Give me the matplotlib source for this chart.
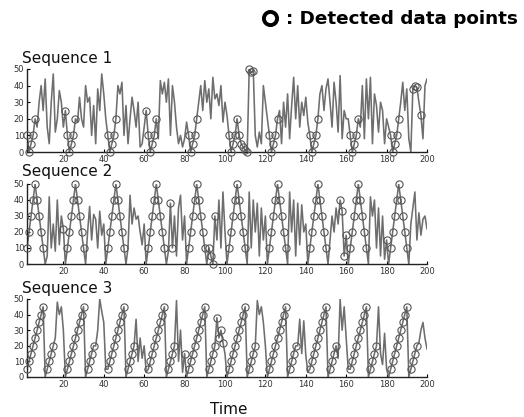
import matplotlib
matplotlib.use("Agg")
import matplotlib.pyplot as plt
from matplotlib.lines import Line2D
import numpy as np

time = list(range(1, 201))

seq1 = [
    10, 10, 0, 5, 10, 20, 15, 30, 40, 25, 44, 15, 5, 30, 47, 12, 20, 37, 30, 15,
    25, 10, 0, 5, 10, 20, 18, 33, 20, 15, 40, 30, 33, 10, 28, 5, 38, 25, 47, 35,
    20, 10, 0, 5, 10, 20, 40, 35, 42, 10, 28, 5, 20, 33, 25, 15, 30, 3, 5, 15,
    25, 10, 0, 5, 10, 20, 8, 43, 35, 42, 30, 44, 10, 40, 30, 15, 5, 10, 3, 8,
    18, 10, 0, 5, 10, 20, 30, 40, 25, 43, 30, 38, 20, 45, 32, 35, 28, 40, 18, 30,
    22, 10, 0, 5, 10, 20, 10, 5, 3, 1, 0, 50, 48, 49, 10, 3, 12, 5, 40, 30,
    20, 10, 0, 5, 10, 20, 25, 5, 30, 15, 35, 8, 28, 45, 20, 40, 15, 30, 22, 33,
    18, 10, 0, 5, 10, 20, 35, 40, 25, 38, 44, 30, 15, 42, 30, 12, 46, 8, 25, 20,
    20, 10, 0, 5, 10, 20, 15, 40, 8, 44, 20, 45, 5, 35, 28, 12, 30, 25, 5, 20,
    15, 10, 0, 5, 10, 20, 30, 42, 25, 38, 8, 0, 38, 40, 39, 30, 22, 8, 40, 44,
]
det1 = [2, 3, 4, 5, 6, 21, 22, 23, 24, 25, 26, 42, 43, 44, 45, 46,
        61, 62, 63, 64, 65, 66, 82, 83, 84, 85, 86,
        102, 103, 104, 105, 106, 107, 108, 109, 110, 111, 112, 113, 114,
        122, 123, 124, 125, 126, 142, 143, 144, 145, 146,
        162, 163, 164, 165, 166, 182, 183, 184, 185, 186, 193, 194, 195, 197]

seq2 = [
    0, 10, 20, 30, 40, 50, 40, 30, 20, 10, 0, 5, 42, 10, 25, 8, 40, 12, 30, 22,
    0, 10, 20, 30, 40, 50, 40, 30, 20, 10, 0, 20, 36, 15, 31, 28, 10, 33, 18, 25,
    0, 10, 20, 30, 40, 50, 40, 30, 20, 10, 0, 10, 43, 25, 35, 28, 30, 20, 12, 25,
    0, 10, 20, 30, 40, 50, 40, 30, 20, 10, 0, 8, 38, 10, 30, 5, 35, 43, 15, 30,
    0, 10, 20, 30, 40, 50, 40, 30, 20, 10, 0, 10, 5, 0, 30, 15, 40, 10, 45, 20,
    0, 10, 20, 30, 40, 50, 40, 30, 20, 10, 0, 45, 10, 40, 20, 38, 5, 35, 15, 30,
    0, 10, 20, 30, 40, 50, 40, 30, 20, 10, 0, 45, 20, 40, 5, 38, 12, 37, 20, 25,
    0, 10, 20, 30, 40, 50, 40, 30, 20, 10, 0, 15, 30, 20, 35, 25, 40, 33, 5, 18,
    0, 10, 20, 30, 40, 50, 40, 30, 20, 10, 0, 42, 30, 40, 10, 35, 5, 30, 3, 15,
    0, 10, 20, 30, 40, 50, 40, 30, 20, 10, 0, 25, 35, 45, 15, 32, 18, 28, 30, 22,
]
det2 = [2, 3, 4, 5, 6, 7, 8, 9, 10, 20,
        22, 23, 24, 25, 26, 27, 28, 29, 30,
        42, 43, 44, 45, 46, 47, 48, 49, 50,
        62, 63, 64, 65, 66, 67, 68, 69, 70, 73, 74,
        82, 83, 84, 85, 86, 87, 88, 89, 90, 92, 93, 94, 95,
        102, 103, 104, 105, 106, 107, 108, 109, 110,
        122, 123, 124, 125, 126, 127, 128, 129, 130,
        142, 143, 144, 145, 146, 147, 148, 149, 150, 157, 158, 159, 160,
        162, 163, 164, 165, 166, 167, 168, 169, 170, 180,
        182, 183, 184, 185, 186, 187, 188, 189, 190]

seq3 = [
    0, 5, 10, 15, 20, 25, 30, 35, 40, 45, 0, 5, 10, 15, 20, 25, 48, 40, 45, 30,
    0, 5, 10, 15, 20, 25, 30, 35, 40, 45, 0, 5, 10, 15, 20, 20, 30, 50, 42, 35,
    5, 5, 10, 15, 20, 25, 30, 35, 40, 45, 0, 5, 10, 15, 20, 37, 10, 25, 12, 20,
    3, 5, 10, 15, 20, 25, 30, 35, 40, 45, 0, 5, 10, 15, 20, 49, 10, 30, 3, 15,
    0, 5, 10, 15, 20, 25, 30, 35, 40, 45, 0, 5, 10, 15, 20, 38, 25, 30, 22, 15,
    0, 5, 10, 15, 20, 25, 30, 35, 40, 45, 0, 5, 10, 15, 20, 49, 40, 45, 35, 20,
    0, 5, 10, 15, 20, 25, 30, 35, 40, 45, 0, 5, 10, 15, 20, 20, 37, 15, 36, 14,
    3, 5, 10, 15, 20, 25, 30, 35, 40, 45, 0, 5, 10, 15, 20, 12, 50, 30, 45, 25,
    5, 5, 10, 15, 20, 25, 30, 35, 40, 45, 0, 5, 10, 15, 20, 45, 15, 8, 28, 5,
    0, 5, 10, 15, 20, 25, 30, 35, 40, 45, 0, 5, 10, 15, 20, 22, 30, 35, 25, 18,
]
det3 = [2, 3, 4, 5, 6, 7, 8, 9, 10, 12, 13, 14, 15,
        22, 23, 24, 25, 26, 27, 28, 29, 30, 32, 33, 34, 35,
        42, 43, 44, 45, 46, 47, 48, 49, 50, 52, 53, 54, 55,
        62, 63, 64, 65, 66, 67, 68, 69, 70, 72, 73, 74, 75, 80,
        82, 83, 84, 85, 86, 87, 88, 89, 90, 92, 93, 94, 95, 96, 97, 98, 99,
        102, 103, 104, 105, 106, 107, 108, 109, 110, 112, 113, 114, 115,
        122, 123, 124, 125, 126, 127, 128, 129, 130, 132, 133, 134, 135,
        142, 143, 144, 145, 146, 147, 148, 149, 150, 152, 153, 154, 155,
        162, 163, 164, 165, 166, 167, 168, 169, 170, 172, 173, 174, 175,
        182, 183, 184, 185, 186, 187, 188, 189, 190, 192, 193, 194, 195]

titles = ["Sequence 1", "Sequence 2", "Sequence 3"]
x_ticks = [20, 40, 60, 80, 100, 120, 140, 160, 180, 200]
y_ticks = [0, 10, 20, 30, 40, 50]
legend_text = ": Detected data points"
x_label = "Time"

W, H = 524, 417
fig = plt.figure(figsize=(W / 100, H / 100), dpi=100)

# axes boxes in pixels: (top, bottom)
boxes = [(69, 152), (184, 264), (299, 377)]
title_baselines = [63, 176, 293]
left_px, right_px = 27, 427

series = [seq1, seq2, seq3]
dets = [det1, det2, det3]

for i in range(3):
    top, bot = boxes[i]
    ax = fig.add_axes([left_px / W, 1 - bot / H, (right_px - left_px) / W, (bot - top) / H])
    t = np.array(time)
    y = np.array(series[i], dtype=float)
    ax.plot(t, y, color="#6e6e6e", lw=1.15, zorder=2)
    idx = np.array(dets[i]) - 1
    ax.plot(t[idx], y[idx], linestyle="none", marker="o", markersize=5.2,
            markerfacecolor="none", markeredgecolor="#555555", markeredgewidth=0.8,
            zorder=3, clip_on=False)
    ax.set_xlim(2, 200)
    ax.set_ylim(0, 50)
    ax.set_xticks(x_ticks)
    ax.set_yticks(y_ticks)
    ax.spines["top"].set_visible(False)
    ax.spines["right"].set_visible(False)
    for s in ("left", "bottom"):
        ax.spines[s].set_linewidth(1.0)
        ax.spines[s].set_color("#222222")
    ax.tick_params(direction="in", length=2, width=0.8, labelsize=6,
                   labelcolor="#333333", pad=2)
    fig.text(22 / W, 1 - title_baselines[i] / H, titles[i], fontsize=11,
             va="baseline", ha="left", color="#111111")

fig.text(229 / W, 1 - 409 / H, x_label, fontsize=11, ha="center", va="center",
         color="#111111")

fig.add_artist(Line2D([270 / W], [1 - 18 / H], marker="o", markersize=9.5,
                      markerfacecolor="none", markeredgecolor="black",
                      markeredgewidth=2.8, transform=fig.transFigure))
fig.text(286 / W, 1 - 19 / H, legend_text, fontsize=13.2, family="DejaVu Sans",
         weight="bold", ha="left", va="center", color="black")

fig.savefig("out.png", dpi=100)
